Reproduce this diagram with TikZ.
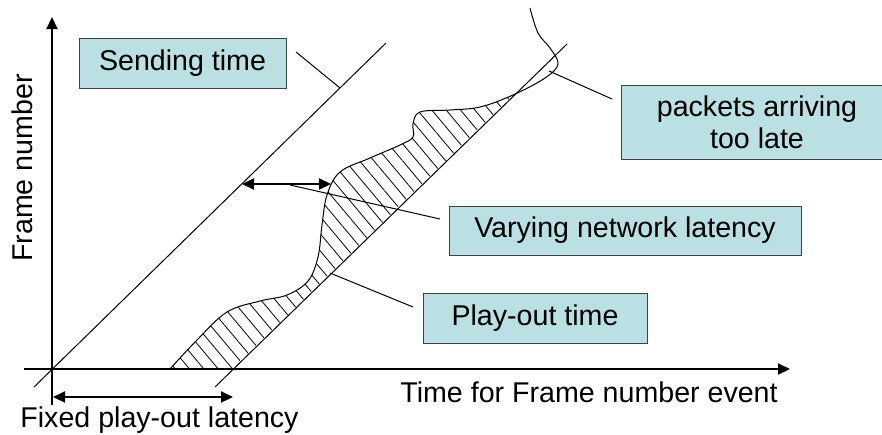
\documentclass[tikz,border=0pt]{standalone}
\usepackage{fontspec}
\setmainfont{Liberation Sans}
\usetikzlibrary{arrows.meta,patterns.meta}
\definecolor{boxcyan}{RGB}{187,224,227}
\tikzset{
  tagbox/.style={draw=black!75, fill=boxcyan, line width=0.5pt, inner sep=0pt, align=center},
  axis/.style={line width=1pt, -{Triangle[length=6pt,width=5.5pt]}},
  gap/.style={line width=1.1pt, {Triangle[length=6pt,width=5.5pt]}-{Triangle[length=6pt,width=5.5pt]}},
  thinline/.style={line width=0.5pt},
}
\begin{document}
\begin{tikzpicture}[x=0.5pt,y=-0.5pt,font=\fontsize{14.3}{16}\selectfont]
\useasboundingbox (0,0) rectangle (882,434);

% hatched area between arrival curve and play-out line
\begin{scope}
\clip (232,369) -- (513,95) -- (150,95) -- (150,369) -- cycle;
\fill[pattern={Lines[angle=-50,distance=5.5pt,line width=0.4pt]}]
  plot[smooth,tension=0.6] coordinates {(170,369) (197,340) (227,312) (260,301) (287,295) (308,281) (318,257) (322,225) (327,195) (340,172) (370,158) (400,145) (413,137) (413,124) (420,112) (450,110) (480,107) (513,95) (545,78) (558,64) (550,48) (538,33) (530,8)}
  -- (620,8) -- (620,369) -- cycle;
\end{scope}

% axes
\coordinate (o) at (52,369);
\coordinate (xl) at (24,369);
\coordinate (xr) at (790,369);
\coordinate (yb) at (52,405);
\coordinate (yt) at (52,17);
\draw[axis] (xl) -- (xr);
\draw[axis] (yb) -- (yt);

% sending and play-out lines
\coordinate (s1) at (34,387);
\coordinate (s2) at (386,43);
\coordinate (p1) at (215,387);
\coordinate (p2) at (567,44);
\draw[thinline] (s1) -- (s2);
\draw[thinline] (p1) -- (p2);

% arrival curve
\draw[thinline] plot[smooth,tension=0.6] coordinates {(170,369) (197,340) (227,312) (260,301) (287,295) (308,281) (318,257) (322,225) (327,195) (340,172) (370,158) (400,145) (413,137) (413,124) (420,112) (450,110) (480,107) (513,95) (545,78) (558,64) (550,48) (538,33) (530,8)};

% latency arrows
\coordinate (ga) at (242,184);
\coordinate (gb) at (331,184);
\draw[gap] (ga) -- (gb);
\coordinate (fa) at (53,397);
\coordinate (fb) at (233,397);
\draw[gap] (fa) -- (fb);

% boxes
\node[tagbox, minimum width=103.5pt, minimum height=25pt] (send) at (182.5,63) {Sending time};
\node[tagbox, minimum width=136pt, minimum height=37pt] (late) at (757,122) {packets arriving\\too late};
\node[tagbox, minimum width=176pt, minimum height=24.5pt] (vary) at (625,230.5) {Varying network latency};
\node[tagbox, minimum width=112pt, minimum height=25pt] (play) at (535,318) {Play-out time};

% leaders
\coordinate (sendtip) at (296,52);
\coordinate (sendfoot) at (340,88);
\draw[thinline] (sendtip) -- (sendfoot);
\coordinate (latetip) at (612,99);
\coordinate (latefoot) at (549,71);
\draw[thinline] (latetip) -- (latefoot);
\coordinate (varytip) at (440,219);
\coordinate (varyfoot) at (290,185);
\draw[thinline] (varytip) -- (varyfoot);
\coordinate (playtip) at (413,307);
\coordinate (playfoot) at (330,273);
\draw[thinline] (playtip) -- (playfoot);

% axis texts
\node[rotate=90] (ylab) at (22,168) {Frame number};
\node[anchor=base west, inner sep=0pt] (xlab) at (400,402) {Time for Frame number event};
\node[anchor=base west, inner sep=0pt] (fixlab) at (20,427) {Fixed play-out latency};
\end{tikzpicture}
\end{document}
